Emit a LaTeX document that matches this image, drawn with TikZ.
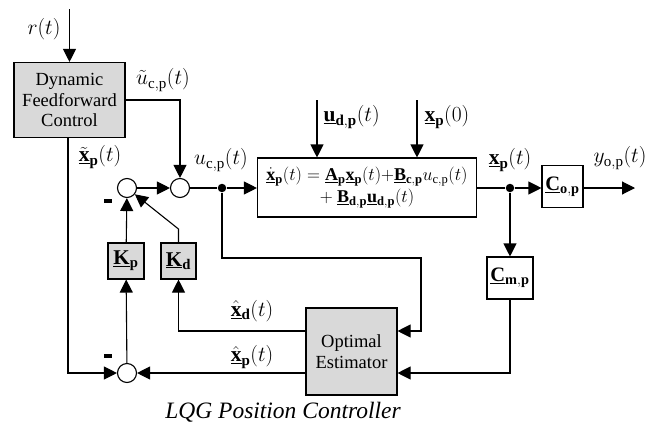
\RequirePackage{fix-cm}
\documentclass[tikz,border=0pt]{standalone}
\usepackage{fontspec}
\setmainfont{Liberation Serif}
\usetikzlibrary{arrows.meta}
\newcommand{\bv}[1]{\underline{\mathbf{#1}}}
\newcommand{\bs}[1]{_{\mathbf{#1}}}
\begin{document}
\begin{tikzpicture}[x=1pt,y=-1pt,
  line width=1.1pt,
  >={Triangle[length=13pt,width=13pt]},
  blk/.style={draw, fill=black!15, align=center, inner sep=0pt, font=\fontsize{18.5}{20.5}\selectfont},
  wblk/.style={draw, fill=white, align=center, inner sep=0pt, font=\fontsize{18}{22}\selectfont},
  sumc/.style={draw, circle, fill=white, minimum size=19pt, inner sep=0pt},
  dotc/.style={circle, fill=black, minimum size=8.5pt, inner sep=0pt},
  lbl/.style={font=\fontsize{21.5}{24}\selectfont, inner sep=0pt},
  minus/.style={fill=black, minimum width=8pt, minimum height=3.5pt, inner sep=0pt}
]
\useasboundingbox (0,0) rectangle (664,429);
% blocks
\node[blk, minimum width=111pt, minimum height=75pt] (dfc) at (69.5,100) {Dynamic\\Feedforward\\Control};
\node[sumc] (sum1) at (127,188) {};
\node[sumc] (sum2) at (180,188) {};
\node[dotc] (dot1) at (222,188) {};
\node[wblk, minimum width=219pt, minimum height=59pt] (sys) at (367,187.5)
  {$\underline{\dot{\mathbf{x}}}\bs{p}(t) = \bv{A}\bs{p}\bv{x}\bs{p}(t){+}\bv{B}\bs{c{,}p}u_{\mathrm{c{,}p}}(t)$\\[0pt]
   $+\ \bv{B}\bs{d{,}p}\bv{u}\bs{d{,}p}(t)$};
\node[dotc] (dot2) at (510,188) {};
\node[wblk, minimum width=41pt, minimum height=42pt, font=\fontsize{20.5}{22}\selectfont] (Cop) at (562.5,186.5) {$\bv{C}\bs{o{,}p}$};
\node[wblk, minimum width=46pt, minimum height=42pt, font=\fontsize{20.5}{22}\selectfont] (Cmp) at (510,278) {$\bv{C}\bs{m{,}p}$};
\node[blk, minimum width=36pt, minimum height=36pt, font=\fontsize{21}{22}\selectfont] (Kp) at (126,261) {$\bv{K}\bs{p}$};
\node[blk, minimum width=35pt, minimum height=36pt, font=\fontsize{21}{22}\selectfont] (Kd) at (178.5,261) {$\bv{K}\bs{d}$};
\node[sumc] (sum3) at (127,373) {};
\node[blk, minimum width=91pt, minimum height=87pt] (est) at (351.5,351.5) {Optimal\\Estimator};
% coordinates
\coordinate (rin) at (69.5,9);
\coordinate (udin) at (317,100);
\coordinate (xp0in) at (417,100);
\coordinate (out) at (635,188);
\coordinate (c1) at (421,258);
\coordinate (estin1) at (est.east |- 0,331);
\coordinate (estin2) at (est.east |- 0,373);
\coordinate (estout1) at (est.west |- 0,331);
\coordinate (estout2) at (est.west |- 0,373);
\coordinate (kdc) at (178.5,229);
% connectors
\draw[->] (rin) -- (dfc);
\draw[->] (dfc.east) -| (sum2);
\draw[->] (sum1) -- (sum2);
\draw (sum2) -- (dot1);
\draw[->] (dot1) -- (sys.west |- dot1);
\draw[->] (udin) -- (sys.north -| udin);
\draw[->] (xp0in) -- (sys.north -| xp0in);
\draw (sys.east |- dot2) -- (dot2);
\draw[->] (dot2) -- (Cop.west |- dot2);
\draw[->] (Cop.east |- out) -- (out);
\draw[->] (dot2) -- (Cmp);
\draw[->] (Cmp) |- (estin2);
\draw[->] (dot1) |- (c1) |- (estin1);
\draw[->] (estout1) -| (Kd);
\draw[->] (estout2) -- (sum3);
\draw[->] (dfc.south -| 68,0) |- (sum3);
\draw[->] (sum3) -- (Kp);
\draw[->] (Kp) -- (sum1);
\draw[->] (Kd.north) -- (kdc) -- (sum1);
% labels
\node[lbl] (lr) at (44,29) {$r(t)$};
\node[lbl] (lut) at (163,80) {$\tilde{u}_{\mathrm{c{,}p}}(t)$};
\node[lbl] (lxt) at (100,157) {$\underline{\tilde{\mathbf{x}}}\bs{p}(t)$};
\node[lbl] (lu) at (221,160) {$u_{\mathrm{c{,}p}}(t)$};
\node[lbl, anchor=west] (lud) at (323,117) {$\bv{u}\bs{d{,}p}(t)$};
\node[lbl, anchor=west] (lx0) at (424,117) {$\bv{x}\bs{p}(0)$};
\node[lbl] (lxp) at (510,160) {$\bv{x}\bs{p}(t)$};
\node[lbl] (ly) at (620,158) {$y_{\mathrm{o{,}p}}(t)$};
\node[lbl] (lxd) at (252,311) {$\underline{\hat{\mathbf{x}}}\bs{d}(t)$};
\node[lbl] (lxh) at (252,357) {$\underline{\hat{\mathbf{x}}}\bs{p}(t)$};
\node[minus] (m1) at (108,201) {};
\node[minus] (m2) at (108,356) {};
\node[font=\itshape\fontsize{23.5}{24}\selectfont] (cap) at (283,412) {LQG Position Controller};
\end{tikzpicture}
\end{document}
